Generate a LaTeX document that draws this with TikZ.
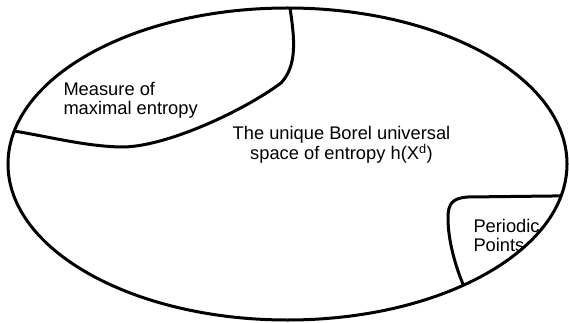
\documentclass[tikz,border=0pt]{standalone}
\usepackage{fontspec}
\setmainfont{Liberation Sans}
\usetikzlibrary{calc}

\begin{document}
\begin{tikzpicture}[x=1pt,y=-1pt,line width=3pt]
\useasboundingbox (0,0) rectangle (569,323);
\coordinate (c) at (287.5,164);
% whole space
\draw (c) ellipse (279.5 and 156);
% where the inner curves meet the ellipse (y points down here)
\coordinate (mtop) at ($(c)+(-89.5:279.5 and 156)$);
\coordinate (mleft) at ($(c)+(-167.8:279.5 and 156)$);
\coordinate (pright) at ($(c)+(11.8:279.5 and 156)$);
\coordinate (pbot) at ($(c)+(51:279.5 and 156)$);
% measure of maximal entropy
\draw (mtop) .. controls (295,40) and (297,66) .. (281,83)
  .. controls (245,110) and (165,148) .. (120,147)
  .. controls (85,146) and (50,137) .. (mleft);
% periodic points
\draw (pright) -- (468,197) .. controls (452,198) and (448,204) .. (448,218)
  .. controls (448,240) and (455,265) .. (pbot);
% labels, placed at the baseline of their last line
\begin{scope}[font=\fontsize{18.3}{18.5}\selectfont]
\node[anchor=base west,align=left,inner xsep=0pt] (mme) at (62,114.5) {Measure of\\maximal entropy};
\node[anchor=base,align=center] (space) at (341.5,160) {The unique Borel universal\\space of entropy h(X\textsuperscript{d})};
\node[anchor=base west,align=left,inner xsep=0pt] (per) at (472,251) {Periodic\\Points};
\end{scope}
\end{tikzpicture}
\end{document}
